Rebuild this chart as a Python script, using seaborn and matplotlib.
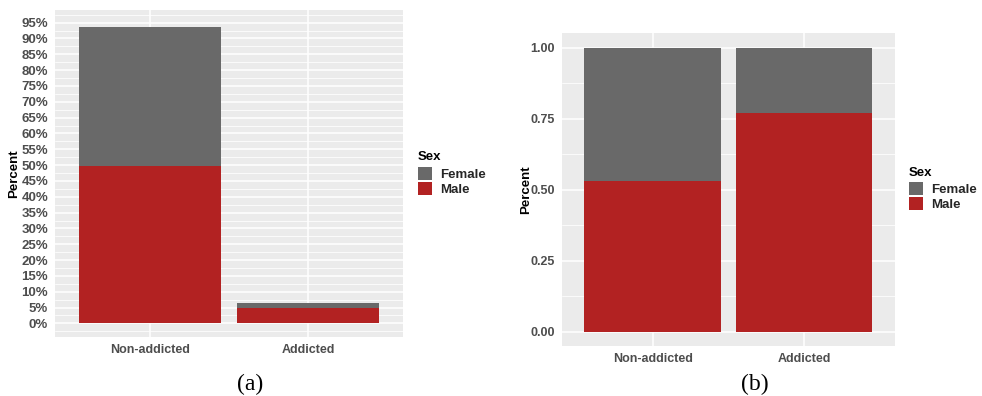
import numpy as np
import pandas as pd
import matplotlib
matplotlib.use("Agg")
import matplotlib.pyplot as plt
from matplotlib.patches import Patch
from matplotlib.ticker import MultipleLocator, FuncFormatter
import seaborn as sns

# Share of respondents by addiction status and sex
status = ["Non-addicted", "Addicted"]
male_pct = [49.6, 5.0]        # % of all respondents
female_pct = [43.9, 1.5]
male_share = [0.53, 0.77]     # proportion within each status group
female_share = [0.47, 0.23]

sex_levels = ["Female", "Male"]
sex_colors = {"Female": "#696969", "Male": "#B22222"}

sns.set_theme(style="white")
plt.rcParams["font.family"] = ["Liberation Sans", "DejaVu Sans"]

PANEL_BG = "#EBEBEB"
TICK_TXT = "#4D4D4D"


def stacked(ax, male, female):
    df = pd.DataFrame({"status": status,
                       "male": male,
                       "total": np.add(male, female)})
    sns.barplot(data=df, x="status", y="total", order=status,
                color=sex_colors["Female"], saturation=1, width=0.9,
                linewidth=0, ax=ax)
    sns.barplot(data=df, x="status", y="male", order=status,
                color=sex_colors["Male"], saturation=1, width=0.9,
                linewidth=0, ax=ax)


def ggplot_look(ax, major, ylim, fmt, ysize):
    ax.set_facecolor(PANEL_BG)
    for s in ax.spines.values():
        s.set_visible(False)
    ax.set_xlim(-0.6, 1.6)
    ax.set_ylim(*ylim)
    ax.yaxis.set_major_locator(MultipleLocator(major))
    ax.yaxis.set_minor_locator(MultipleLocator(major / 2))
    ax.yaxis.set_major_formatter(FuncFormatter(fmt))
    ax.set_axisbelow(True)
    ax.grid(True, which="major", axis="both", color="white", linewidth=1.1)
    ax.grid(True, which="minor", axis="y", color="white", linewidth=0.55)
    ax.tick_params(axis="both", which="major", length=3, width=0.8,
                   color="#333333", labelcolor=TICK_TXT, pad=2)
    ax.tick_params(axis="x", labelsize=9)
    ax.tick_params(axis="y", labelsize=ysize)
    ax.tick_params(axis="y", which="minor", length=0)
    for lab in ax.get_xticklabels() + ax.get_yticklabels():
        lab.set_fontweight("bold")
    ax.set_xlabel("")
    ax.set_ylabel("Percent", fontsize=9.5, fontweight="bold", color="black")


def sex_legend(fig, x, y_title, y_keys):
    fig.text(x, y_title, "Sex", ha="left", va="center",
             fontsize=9.5, fontweight="bold", color="black")
    handles = [Patch(facecolor=sex_colors[s], edgecolor="none", label=s)
               for s in sex_levels]
    leg = fig.legend(handles=handles, loc="upper left",
                     bbox_to_anchor=(x, y_keys), frameon=False,
                     prop={"size": 9.5, "weight": "bold"},
                     handlelength=1.05, handleheight=1.15, handletextpad=0.6,
                     labelspacing=0.05, borderpad=0, borderaxespad=0)
    return leg


W, H = 982, 396
fig = plt.figure(figsize=(W / 100, H / 100), dpi=100)

# (a) percentages of the whole sample
ax_a = fig.add_axes([55 / W, 1 - 337 / H, 348 / W, 327 / H])
stacked(ax_a, male_pct, female_pct)
ggplot_look(ax_a, 5, (-4.3, 99.0), lambda v, p: f"{v:.0f}%", 9.5)
ax_a.yaxis.set_major_locator(plt.FixedLocator(np.arange(0, 96, 5)))
ax_a.yaxis.set_label_coords(-0.1, 0.5)

# (b) proportions within each group
ax_b = fig.add_axes([561.7 / W, 1 - 345.7 / H, 333.3 / W, 312.4 / H])
stacked(ax_b, male_share, female_share)
ggplot_look(ax_b, 0.25, (-0.05, 1.05), lambda v, p: f"{v:.2f}", 9)
ax_b.yaxis.set_label_coords(-0.089, 0.5)

sex_legend(fig, 418 / W, 1 - 157 / H, 1 - 167 / H)
sex_legend(fig, 909 / W, 1 - 173 / H, 1 - 182 / H)

fig.text(250 / W, 1 - 384 / H, "(a)", ha="center", va="center",
         fontsize=17, family="Liberation Serif", color="black")
fig.text(755 / W, 1 - 384 / H, "(b)", ha="center", va="center",
         fontsize=17, family="Liberation Serif", color="black")

fig.savefig("out.png", dpi=100, facecolor="white")
